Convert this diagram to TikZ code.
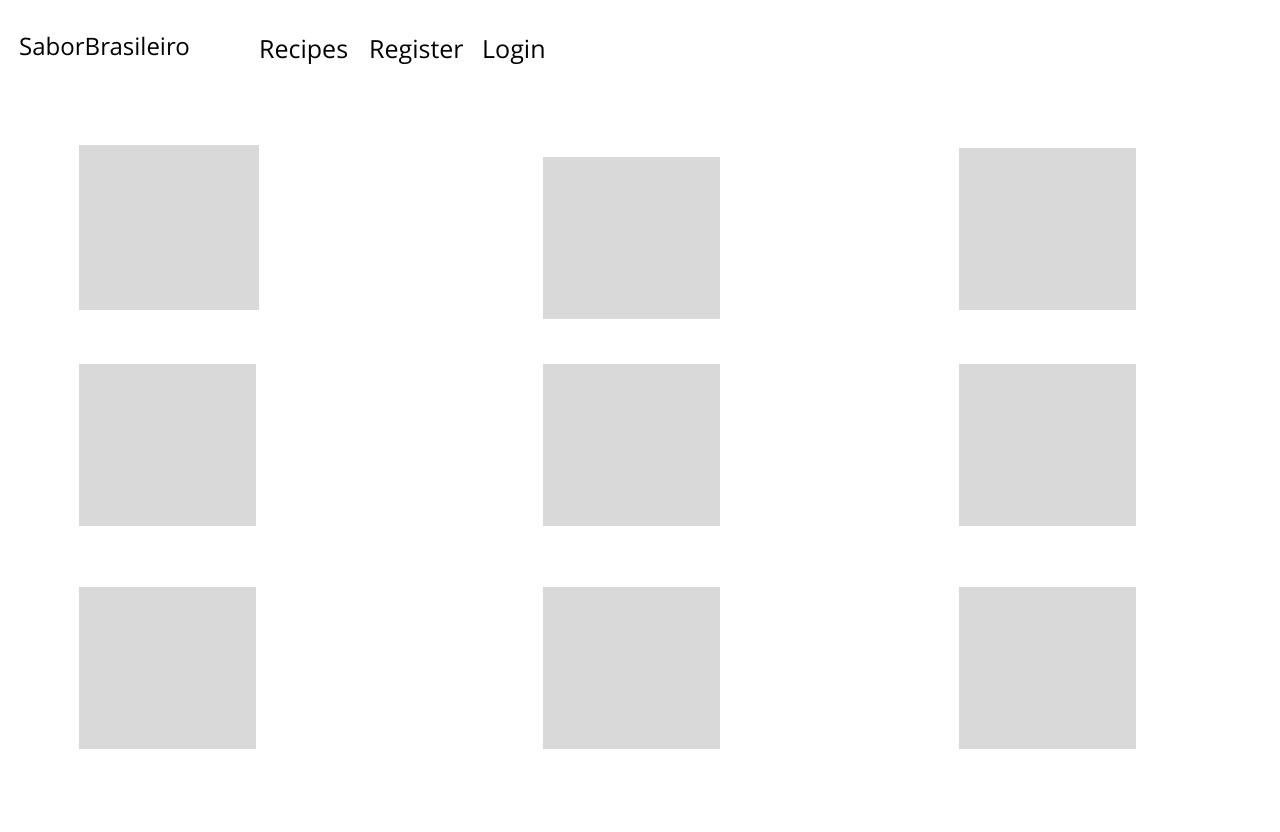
\documentclass[tikz,border=0pt]{standalone}
\usepackage{fontspec}
\setmainfont{Open Sans}
\usepackage{tikz}
\definecolor{cardgray}{HTML}{D9D9D9}

\begin{document}
\begin{tikzpicture}[x=1pt,y=-1pt,
        navtext/.style={anchor=base west,inner sep=0pt,font=\fontsize{25}{29}\selectfont}]
        \useasboundingbox [fill=white] (0,0) rectangle (1280,832);

        % Header
        \node [navtext,font=\fontsize{24}{28}\selectfont] (brand) at (19,56) {SaborBrasileiro};
        \node [navtext] (recipes) at (259,59) {Recipes};
        \node [navtext] (register) at (369,59) {Register};
        \node [navtext] (login) at (482,59) {Login};

        % Cards, first row
        \path [fill=cardgray] (79,145) rectangle (259,310);
        \path [fill=cardgray] (543,157) rectangle (720,319);
        \path [fill=cardgray] (959,148) rectangle (1136,310);

        % Cards, second row
        \path [fill=cardgray] (79,364) rectangle (256,526);
        \path [fill=cardgray] (543,364) rectangle (720,526);
        \path [fill=cardgray] (959,364) rectangle (1136,526);

        % Cards, third row
        \path [fill=cardgray] (79,587) rectangle (256,749);
        \path [fill=cardgray] (543,587) rectangle (720,749);
        \path [fill=cardgray] (959,587) rectangle (1136,749);
    \end{tikzpicture}
\end{document}
